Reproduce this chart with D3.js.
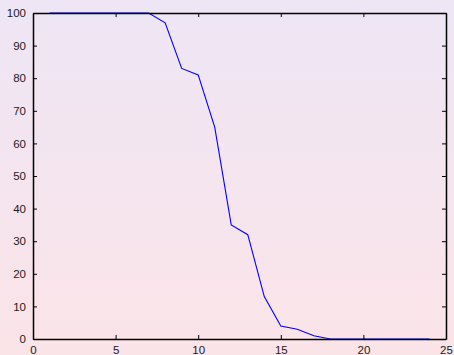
<!DOCTYPE html>
<html>
<head>
<meta charset="utf-8">
<script src="https://cdn.jsdelivr.net/npm/d3@7"></script>
<style>
  html, body { margin: 0; padding: 0; }
  svg { display: block; font-family: "Liberation Sans", Arial, sans-serif; }
</style>
</head>
<body>
<div id="canvas"></div>
<script>
var xValues = [1, 2, 3, 4, 5, 6, 7, 8, 9, 10, 11, 12, 13, 14, 15, 16, 17, 18, 19, 20, 21, 22, 23, 24];
var yValues = [100, 100, 100, 100, 100, 100, 100, 97, 83, 81, 65, 35, 32, 13, 4, 3, 1, 0, 0, 0, 0, 0, 0, 0];
var xTicks = [0, 5, 10, 15, 20, 25];
var yTicks = [0, 10, 20, 30, 40, 50, 60, 70, 80, 90, 100];

var W = 454, H = 355;
var margin = { top: 13, left: 33, right: 8, bottom: 16 };
var width = W - margin.left - margin.right,
    height = H - margin.top - margin.bottom;

var svg = d3.select('#canvas').append('svg')
    .attr('width', W)
    .attr('height', H);

var grad = svg.append('defs').append('linearGradient')
    .attr('id', 'bg')
    .attr('x1', 0).attr('y1', 0).attr('x2', 0).attr('y2', 1);
grad.append('stop').attr('offset', '0%').attr('stop-color', '#eee6f5');
grad.append('stop').attr('offset', '100%').attr('stop-color', '#fbe4e8');

svg.append('rect')
    .attr('width', W).attr('height', H)
    .attr('fill', 'url(#bg)');

var g = svg.append('g')
    .attr('transform', 'translate(' + margin.left + ',' + margin.top + ')');

var x = d3.scaleLinear().domain([0, 25]).range([0, width]);
var y = d3.scaleLinear().domain([0, 100]).range([height, 0]);

// data line
var line = d3.line()
    .x(function (d, i) { return x(xValues[i]); })
    .y(function (d) { return y(d); });

g.append('path')
    .datum(yValues)
    .attr('d', line)
    .attr('fill', 'none')
    .attr('stroke', '#0000ff')
    .attr('stroke-width', 1.1);

// axes with inward ticks
var tickLen = 4;
g.append('g')
    .attr('class', 'axis')
    .attr('transform', 'translate(0,' + height + ')')
    .call(d3.axisBottom(x).tickValues(xTicks).tickSizeInner(-tickLen).tickSizeOuter(0).tickPadding(tickLen + 3));
g.append('g')
    .attr('class', 'axis')
    .call(d3.axisTop(x).tickValues(xTicks).tickSizeInner(-tickLen).tickSizeOuter(0).tickFormat(''));
g.append('g')
    .attr('class', 'axis')
    .call(d3.axisLeft(y).tickValues(yTicks).tickSizeInner(-tickLen).tickSizeOuter(0).tickPadding(tickLen + 3));
g.append('g')
    .attr('class', 'axis')
    .attr('transform', 'translate(' + width + ',0)')
    .call(d3.axisRight(y).tickValues(yTicks).tickSizeInner(-tickLen).tickSizeOuter(0).tickFormat(''));

g.selectAll('.axis path.domain').attr('stroke', '#000').attr('stroke-width', 1.5);
g.selectAll('.axis line').attr('stroke', '#000').attr('stroke-width', 1);
g.selectAll('.axis text')
    .attr('fill', '#1a1a1a')
    .style('font-size', '11.5px')
    .style('font-family', '"Liberation Sans", Arial, sans-serif');
</script>
</body>
</html>
